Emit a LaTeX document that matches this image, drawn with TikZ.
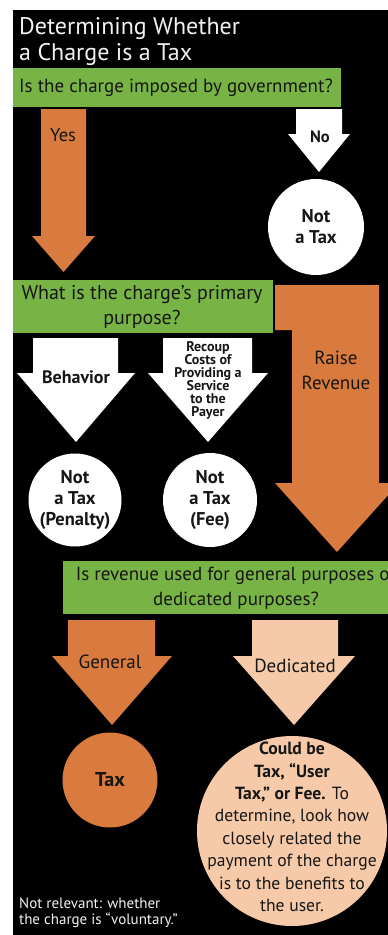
\documentclass[tikz,border=0pt]{standalone}
\usepackage{fontspec}
\setmainfont{PT Sans}
\definecolor{leaf}{HTML}{78B445}
\definecolor{rust}{HTML}{D97A3E}
\definecolor{peach}{HTML}{F6CAA8}
\definecolor{ink}{HTML}{161616}
\definecolor{chalk}{HTML}{F2F2F2}

% block arrow pointing down: colour, shaft x1, shaft x2, top y, neck y, head x1, head x2, tip y
\newcommand{\downblock}[8]{%
  \fill[#1] (#2,#4) -- (#3,#4) -- (#3,#5) -- (#7,#5) -- ({(#6+#7)/2},#8)
    -- (#6,#5) -- (#2,#5) -- cycle;}

\tikzset{
  qtext/.style={text=ink, inner sep=0, align=center, font=\fontsize{19}{25}\selectfont},
  albl/.style={text=ink, inner sep=0, align=center, font=\fontsize{19}{25}\selectfont},
  endpt/.style={circle, inner sep=0, text=ink, align=center,
    font=\bfseries\fontsize{18.5}{21}\selectfont},
}

\begin{document}
\begin{tikzpicture}[x=1pt, y=-1pt]
\useasboundingbox (0,0) rectangle (388,935);
\fill[white] (0,0) rectangle (388,935);
\begin{scope}
\clip (0,0) rectangle (388,935);
\fill[black] (13,10) rectangle (400,950);

% title
\node[anchor=north west, inner sep=0, text=chalk, align=left,
  font=\fontsize{24}{26}\selectfont] (title) at (19,17.5)
  {Determining Whether\\a Charge is a Tax};

% question 1
\fill[leaf] (13,68) rectangle (341,107);
\node[qtext] (q1) at (176,88) {Is the charge imposed by government?};

% yes / no
\downblock{rust}{41}{86}{109}{236}{32}{95}{272}
\node[albl, font=\fontsize{18.5}{21}\selectfont] (yes) at (63,135) {Yes};
\downblock{white}{296}{342}{109}{134}{288}{350}{172}
\node[albl, font=\bfseries\fontsize{16.5}{20}\selectfont] (no) at (320,137) {No};
\node[endpt, fill=white, minimum size=96pt] (nt1) at (316,227) {Not\\a Tax};

% question 2
\fill[leaf] (13,280) rectangle (273,333);
\node[qtext, font=\fontsize{20}{25}\selectfont] (q2) at (142,307) {What is the charge’s primary\\purpose?};

% raise revenue
\fill[rust] (275,285) -- (379,285) -- (379,483) -- (399,483) -- (337,552)
  -- (275,483) -- (292,483) -- (292,330) -- (275,330) -- cycle;
\node[albl] (rev) at (336,370) {Raise\\Revenue};

% behavior / recoup
\downblock{white}{33}{118}{338}{373}{17}{135}{442}
\node[albl, font=\bfseries\fontsize{18}{20}\selectfont] (beh) at (76,377) {Behavior};
\downblock{white}{163}{252}{338}{373}{148}{268}{442}
\node[albl, font=\bfseries\fontsize{14}{13}\selectfont] (rec) at (208,380)
  {Recoup\\Costs of\\Providing a\\Service\\to the\\Payer};
\node[endpt, fill=white, minimum size=93pt] (pen) at (75,500) {Not\\a Tax\\(Penalty)};
\node[endpt, fill=white, minimum size=94pt] (fee) at (210,500) {Not\\a Tax\\(Fee)};

% question 3
\fill[leaf] (63,561) rectangle (410,614);
\node[qtext] (q3) at (236,588)
  {Is revenue used for general purposes or\\dedicated purposes?};

% general / dedicated
\downblock{rust}{68}{155}{620}{656}{52}{172}{725}
\node[albl] (gen) at (110,662) {General};
\downblock{peach}{252}{338}{620}{656}{233}{355}{725}
\node[albl] (ded) at (295,666) {Dedicated};
\node[endpt, fill=rust, minimum size=95pt, font=\bfseries\fontsize{20}{22}\selectfont] (tax) at (110,780) {Tax};
\node[circle, fill=peach, minimum size=190pt, inner sep=0] (maybe) at (292,831) {};
\node[text=ink, inner sep=0, align=center, font=\fontsize{17.6}{22.4}\selectfont]
  (maybetxt) at (292,827)
  {\textbf{Could be}\\\textbf{Tax, “User}\\\textbf{Tax,” or Fee.} To\\determine, look how\\closely related the\\payment of the charge\\is to the benefits to\\the user.};

% footnote
\node[anchor=north west, inner sep=0, text=chalk, align=left,
  font=\fontsize{15}{16}\selectfont] (note) at (19,898)
  {Not relevant: whether\\the charge is “voluntary.”};
\end{scope}
\end{tikzpicture}
\end{document}
